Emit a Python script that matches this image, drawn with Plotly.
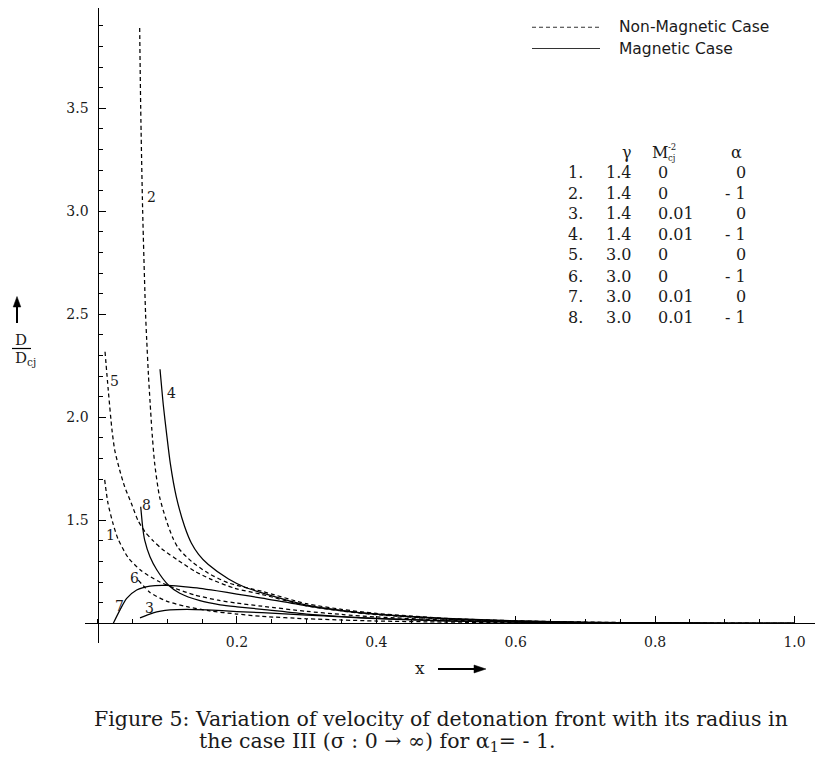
import plotly.graph_objects as go

# ---------------- data ----------------
x1 = [0.0103, 0.015, 0.0222, 0.0294, 0.0438, 0.0628, 0.0868, 0.111, 0.139, 0.173, 0.2, 0.236, 0.3, 0.35, 0.4, 0.5, 0.6, 0.7, 0.8, 0.9, 1.0]
y1 = [1.696, 1.583, 1.485, 1.41, 1.32, 1.255, 1.205, 1.17, 1.138, 1.112, 1.098, 1.083, 1.058, 1.043, 1.031, 1.016, 1.008, 1.003, 1.001, 1.0, 1.0]

x2 = [0.0605, 0.062, 0.0648, 0.069, 0.0706, 0.073, 0.0755, 0.078, 0.082, 0.089, 0.0987, 0.108, 0.116, 0.135, 0.159, 0.188, 0.236, 0.3, 0.35, 0.4, 0.5, 0.6, 0.7, 0.8, 0.9, 1.0]
y2 = [3.89, 3.5, 3.0, 2.5, 2.376, 2.21, 2.07, 1.938, 1.777, 1.615, 1.50, 1.415, 1.365, 1.30, 1.243, 1.196, 1.155, 1.095, 1.068, 1.048, 1.024, 1.012, 1.006, 1.002, 1.0005, 1.0]

x3 = [0.061, 0.080, 0.104, 0.128, 0.157, 0.2, 0.236, 0.3, 0.35, 0.4, 0.5, 0.6, 0.7, 0.8, 0.9, 1.0]
y3 = [1.026, 1.051, 1.065, 1.068, 1.065, 1.057, 1.052, 1.04, 1.031, 1.023, 1.012, 1.006, 1.003, 1.001, 1.0, 1.0]

x4 = [0.0897, 0.0944, 0.0995, 0.1045, 0.113, 0.125, 0.1346, 0.145, 0.159, 0.188, 0.2116, 0.236, 0.3, 0.35, 0.4, 0.5, 0.6, 0.7, 0.8, 0.9, 1.0]
y4 = [2.233, 2.06, 1.91, 1.775, 1.615, 1.47, 1.39, 1.335, 1.285, 1.215, 1.175, 1.148, 1.088, 1.062, 1.044, 1.022, 1.011, 1.005, 1.002, 1.0, 1.0]

x5 = [0.0108, 0.0155, 0.0208, 0.0247, 0.0318, 0.039, 0.0485, 0.058, 0.068, 0.08, 0.092, 0.116, 0.14, 0.164, 0.197, 0.236, 0.3, 0.35, 0.4, 0.5, 0.6, 0.7, 0.8, 0.9, 1.0]
y5 = [2.318, 2.13, 1.938, 1.841, 1.744, 1.663, 1.583, 1.50, 1.445, 1.40, 1.362, 1.305, 1.252, 1.212, 1.17, 1.14, 1.085, 1.06, 1.042, 1.02, 1.01, 1.004, 1.001, 1.0, 1.0]

x6 = [0.0585, 0.0753, 0.099, 0.128, 0.161, 0.2, 0.236, 0.3, 0.35, 0.4, 0.5, 0.6, 0.7, 0.8, 0.9, 1.0]
y6 = [1.21, 1.15, 1.108, 1.081, 1.06, 1.045, 1.034, 1.022, 1.016, 1.011, 1.006, 1.003, 1.001, 1.0, 1.0, 1.0]

x7 = [0.0227, 0.0323, 0.0419, 0.0562, 0.0753, 0.0993, 0.123, 0.147, 0.171, 0.2, 0.236, 0.3, 0.35, 0.4, 0.5, 0.6, 0.7, 0.8, 0.9, 1.0]
y7 = [1.0, 1.065, 1.121, 1.162, 1.181, 1.184, 1.178, 1.17, 1.158, 1.142, 1.122, 1.085, 1.062, 1.045, 1.024, 1.012, 1.005, 1.002, 1.0, 1.0]

x8 = [0.062, 0.0653, 0.0677, 0.0753, 0.085, 0.1016, 0.118, 0.147, 0.176, 0.2, 0.236, 0.3, 0.35, 0.4, 0.5, 0.6, 0.7, 0.8, 0.9, 1.0]
y8 = [1.566, 1.453, 1.404, 1.323, 1.26, 1.186, 1.146, 1.11, 1.09, 1.08, 1.068, 1.045, 1.033, 1.024, 1.012, 1.006, 1.002, 1.0, 1.0, 1.0]

curve_names = ["1", "2", "3", "4", "5", "6", "7", "8"]
curve_magnetic = [False, False, True, True, False, False, True, True]
label_x = [0.019, 0.078, 0.074, 0.1065, 0.025, 0.053, 0.031, 0.0706]
label_y = [1.429, 3.07, 1.073, 2.117, 2.174, 1.221, 1.084, 1.574]

x_tickvals = [0.2, 0.4, 0.6, 0.8, 1.0]
x_ticktext = ["0.2", "0.4", "0.6", "0.8", "1.0"]
y_tickvals = [1.5, 2.0, 2.5, 3.0, 3.5]
y_ticktext = ["1.5", "2.0", "2.5", "3.0", "3.5"]

table_header = ["γ", "M", "α"]
table_num = ["1.", "2.", "3.", "4.", "5.", "6.", "7.", "8."]
table_gamma = ["1.4", "1.4", "1.4", "1.4", "3.0", "3.0", "3.0", "3.0"]
table_m = ["0", "0", "0.01", "0.01", "0", "0", "0.01", "0.01"]
table_alpha = ["0", "- 1", "0", "- 1", "0", "- 1", "0", "- 1"]

legend_names = ["Non-Magnetic Case", "Magnetic Case"]

caption_1 = "Figure 5: Variation of velocity of detonation front with its radius in"
caption_2 = "the case III (σ : 0 → ∞) for α<sub>1</sub>= - 1."

# ---------------- layout geometry (reference pixels) ----------------
OFF = 8                                # page body margin of the html page
PAGE_W, PAGE_H = 826, 770
W, H = PAGE_W - OFF, PAGE_H - OFF
L, R, T, B = 85, 815, 8, 643          # plot area edges in page pixels
X0PX, XS = 97.5, 697.0                # pixel of x=0, pixels per unit
Y1PX, YS = 623.3, 206.0               # pixel of y=1, pixels per unit

xr = [(L - X0PX) / XS, (R - X0PX) / XS]
yr = [1 + (Y1PX - B) / YS, 1 + (Y1PX - T) / YS]


def px(v):
    return (v - L) / (R - L)


def py(v):
    return (B - v) / (B - T)


INK = "#1a1a1a"
SERIF = "DejaVu Serif"
SANS = "DejaVu Sans"

fig = go.Figure()
xs = [x1, x2, x3, x4, x5, x6, x7, x8]
ys = [y1, y2, y3, y4, y5, y6, y7, y8]
for name, mag, xx, yy in zip(curve_names, curve_magnetic, xs, ys):
    fig.add_trace(go.Scatter(
        x=xx, y=yy, mode="lines", name=name, showlegend=False,
        line=dict(color="black", width=1.25, dash="solid" if mag else "4px,3px",
                  shape="spline", smoothing=0.7),
        hoverinfo="skip"))

annotations = []
for name, lx, ly in zip(curve_names, label_x, label_y):
    annotations.append(dict(x=lx, y=ly, xref="x", yref="y", text=name, showarrow=False,
                            font=dict(family=SERIF, size=14, color=INK)))

shapes = []
# legend (drawn)
leg_y = [27.3, 48.5]
for i, (nm, yy) in enumerate(zip(legend_names, leg_y)):
    shapes.append(dict(type="line", xref="paper", yref="paper",
                       x0=px(532), x1=px(600), y0=py(yy), y1=py(yy),
                       line=dict(color="#333", width=1.1, dash="4px,3px" if i == 0 else "solid")))
    annotations.append(dict(x=px(617), y=py(yy), xref="paper", yref="paper", text=nm,
                            xanchor="left", yanchor="middle", showarrow=False,
                            font=dict(family=SANS, size=15.5, color=INK)))

# parameter table
tf = dict(family=SERIF, size=16, color=INK)
annotations.append(dict(x=px(627), y=py(152), xref="paper", yref="paper", text=table_header[0],
                        showarrow=False, xanchor="center", yanchor="middle", font=tf))
annotations.append(dict(x=px(650), y=py(152), xref="paper", yref="paper", text=table_header[1],
                        showarrow=False, xanchor="left", yanchor="middle", font=tf))
annotations.append(dict(x=px(666), y=py(146.5), xref="paper", yref="paper", text="-2",
                        showarrow=False, xanchor="left", yanchor="middle",
                        font=dict(family=SERIF, size=8.5, color=INK)))
annotations.append(dict(x=px(666), y=py(157.5), xref="paper", yref="paper", text="cj",
                        showarrow=False, xanchor="left", yanchor="middle",
                        font=dict(family=SERIF, size=8.5, color=INK)))
annotations.append(dict(x=px(736), y=py(152), xref="paper", yref="paper", text=table_header[2],
                        showarrow=False, xanchor="center", yanchor="middle", font=tf))
row_y = [172, 193, 213.3, 234.3, 255, 276, 296.7, 317.3]
for n, g, m, a, yy in zip(table_num, table_gamma, table_m, table_alpha, row_y):
    for txt, xx, anc in [(n, 566, "left"), (g, 604, "left"), (m, 656, "left"), (a, 748, "right")]:
        annotations.append(dict(x=px(xx), y=py(yy), xref="paper", yref="paper", text=txt,
                                showarrow=False, xanchor=anc, yanchor="middle", font=tf))

# y-axis title: arrow + D / D_cj
shapes.append(dict(type="line", xref="paper", yref="paper", x0=px(17), x1=px(17),
                   y0=py(323), y1=py(305), line=dict(color="black", width=2)))
shapes.append(dict(type="path", xref="paper", yref="paper",
                   path="M %f %f L %f %f L %f %f Z" % (px(13.2), py(307), px(17), py(296.5), px(20.8), py(307)),
                   fillcolor="black", line=dict(color="black", width=0.5)))
annotations.append(dict(x=px(21), y=py(340), xref="paper", yref="paper", text="D",
                        showarrow=False, xanchor="center", yanchor="middle",
                        font=dict(family=SERIF, size=15, color=INK)))
shapes.append(dict(type="line", xref="paper", yref="paper", x0=px(12), x1=px(31),
                   y0=py(348.5), y1=py(348.5), line=dict(color="black", width=1.2)))
annotations.append(dict(x=px(13), y=py(359), xref="paper", yref="paper", text="D<sub>cj</sub>",
                        showarrow=False, xanchor="left", yanchor="middle",
                        font=dict(family=SERIF, size=15, color=INK)))

# x-axis title: x + arrow
annotations.append(dict(x=px(420), y=py(668), xref="paper", yref="paper", text="x",
                        showarrow=False, xanchor="center", yanchor="middle",
                        font=dict(family=SERIF, size=17, color=INK)))
shapes.append(dict(type="line", xref="paper", yref="paper", x0=px(438), x1=px(476),
                   y0=py(669), y1=py(669), line=dict(color="black", width=2)))
shapes.append(dict(type="path", xref="paper", yref="paper",
                   path="M %f %f L %f %f L %f %f Z" % (px(474), py(665), px(486), py(669), px(474), py(673)),
                   fillcolor="black", line=dict(color="black", width=0.5)))

# caption
cf = dict(family=SERIF, size=20.5, color=INK)
annotations.append(dict(x=px(92), y=py(719), xref="paper", yref="paper", text=caption_1,
                        showarrow=False, xanchor="left", yanchor="middle", font=cf))
annotations.append(dict(x=px(197), y=py(742), xref="paper", yref="paper", text=caption_2,
                        showarrow=False, xanchor="left", yanchor="middle", font=cf))

fig.update_layout(
    width=W, height=H,
    margin=dict(l=L - OFF, r=PAGE_W - R, t=T - OFF, b=PAGE_H - B, pad=0, autoexpand=False),
    paper_bgcolor="white", plot_bgcolor="white",
    showlegend=False,
    annotations=annotations, shapes=shapes,
    xaxis=dict(range=xr, domain=[0, 1], anchor="free", position=py(Y1PX),
               showline=True, linecolor="black", linewidth=1.3,
               showgrid=False, zeroline=False, automargin=False,
               tickmode="array", tickvals=x_tickvals, ticktext=x_ticktext,
               ticks="inside", ticklen=7, tickwidth=1, tickcolor="black",
               ticklabelstandoff=6,
               minor=dict(ticks="inside", ticklen=4, tickwidth=1, tickcolor="black",
                          dtick=0.05, tick0=0, showgrid=False),
               tickfont=dict(family=SERIF, size=14, color=INK)),
    yaxis=dict(range=yr, domain=[0, 1], anchor="free", position=px(X0PX),
               showline=True, linecolor="black", linewidth=1.3,
               showgrid=False, zeroline=False, automargin=False,
               tickmode="array", tickvals=y_tickvals, ticktext=y_ticktext,
               ticks="inside", ticklen=7, tickwidth=1, tickcolor="black",
               ticklabelstandoff=6,
               minor=dict(ticks="inside", ticklen=4, tickwidth=1, tickcolor="black",
                          dtick=0.1, tick0=1.0, showgrid=False),
               tickfont=dict(family=SERIF, size=14, color=INK)),
)

fig.write_html("out.html")
